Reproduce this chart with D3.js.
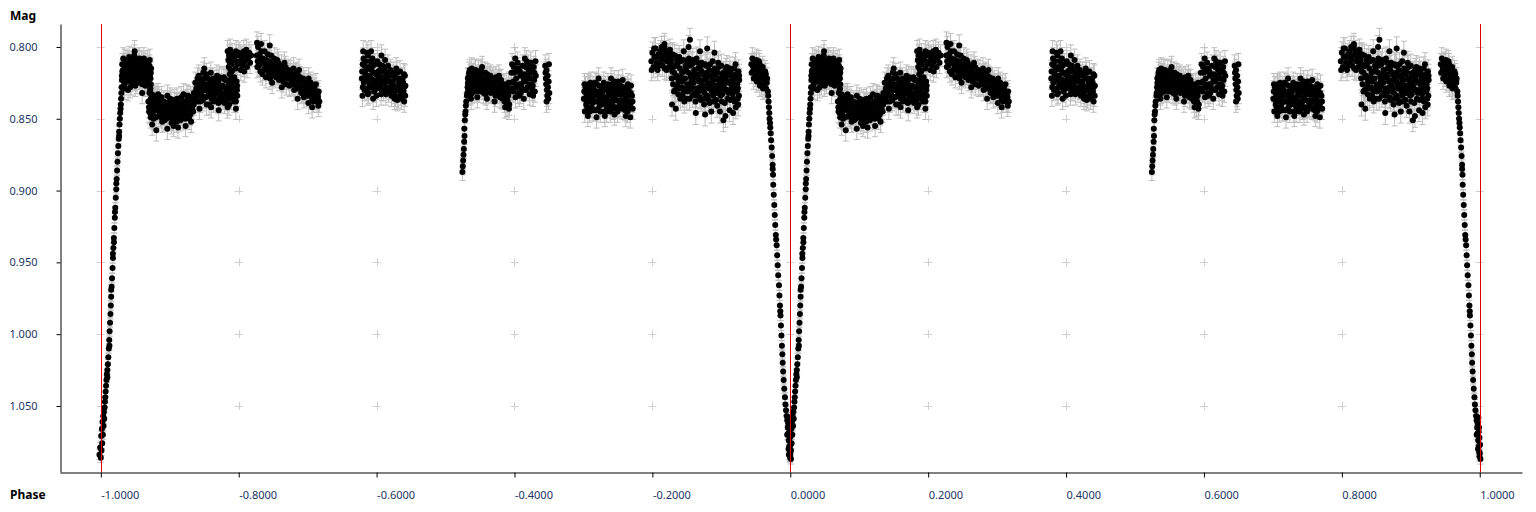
<!DOCTYPE html>
<html><head><meta charset="utf-8">
<script src="https://cdn.jsdelivr.net/npm/d3@7"></script>
<style>body{margin:0;background:#fff;} svg{display:block;}</style>
</head><body>
<svg id="chart" width="1536" height="512"></svg>
<script>
// ---- axis / tick data ----
const xTicks = [-1, -0.8, -0.6, -0.4, -0.2, 0, 0.2, 0.4, 0.6, 0.8, 1];
const yTicks = [0.80, 0.85, 0.90, 0.95, 1.00, 1.05];
const xTitle = "Phase";
const yTitle = "Mag";
const epochLines = [-1, 0, 1];

// ---- phased light curve, one cycle (phase, magnitude); plotted at phase-1 and phase ----
const egress = [[-.002,1.084],[-.001,1.079],[0,1.086],[.0005,1.071],[.001,1.081],[.0015,1.066],[.002,1.076],[.0025,1.061],[.003,1.070],[.0035,1.057],[.004,1.064],[.0045,1.054],[.005,1.059],[.0055,1.051],[.006,1.047],[.0065,1.044],[.007,1.040],[.0076,1.036],[.0082,1.032],[.0088,1.028],[.0095,1.025],[.0102,1.021],[.0109,1.016],[.0116,1.010],[.0122,1.004],[.0128,.998],[.0134,.992],[.014,.986],[.0145,.980],[.015,.974],[.0157,.967],[.0163,.961],[.017,.954],[.0176,.947],[.0182,.940],[.0189,.933],[.0196,.926],[.0203,.919],[.021,.912],[.0217,.905],[.0224,.899],[.023,.892],[.0236,.886],[.0242,.880],[.0248,.874],[.0254,.869],[.026,.864],[.0266,.859],[.0271,.854],[.0276,.850],[.0281,.846],[.0286,.843],[.029,.840],[.0294,.836],[.0298,.832],[.0302,.828],[.0306,.823],[.0125,1.008],[.0175,.944],[.0225,.895],[.0265,.862],[.019,.936],[.0095,1.030],[.0150,.969],[.0205,.915]];
const plateau = [[.031,.812],[.033,.821],[.035,.809],[.037,.824],[.039,.815],[.041,.807],[.043,.819],[.045,.826],[.047,.811],[.049,.817],[.051,.822],[.053,.809],[.055,.814],[.057,.825],[.059,.810],[.061,.818],[.063,.823],[.065,.812],[.067,.816],[.069,.825],[.071,.809],[.073,.815],[.032,.816],[.034,.826],[.036,.813],[.038,.819],[.040,.811],[.042,.823],[.044,.815],[.046,.808],[.048,.820],[.050,.827],[.052,.813],[.054,.818],[.056,.808],[.058,.820],[.060,.826],[.062,.811],[.064,.819],[.066,.824],[.068,.810],[.070,.818],[.072,.822],[.0305,.820],[.0325,.808],[.0345,.817],[.0365,.822],[.0385,.810],[.0405,.816],[.0425,.828],[.0445,.812],[.0465,.821],[.0485,.806],[.0505,.815],[.0525,.825],[.0545,.811],[.0565,.817],[.0585,.813],[.0605,.821],[.0625,.808],[.0645,.827],[.0665,.814],[.0685,.821],[.0705,.813],[.0725,.826],[.049,.803],[.0395,.830],[.060,.832],[.0715,.830],[.0345,.829],
  [.0312,.817],[.0337,.812],[.0362,.818],[.0387,.824],[.0412,.820],[.0437,.822],[.0462,.816],[.0487,.823],[.0512,.810],[.0537,.821],[.0562,.822],[.0587,.817],[.0612,.814],[.0637,.815],[.0662,.819],[.0687,.814],[.0712,.820],[.0725,.818]];
const dip = [[.069,.838],[.0715,.846],[.074,.833],[.0765,.850],[.079,.841],[.0815,.836],[.084,.848],[.0865,.843],[.089,.852],[.0915,.838],[.094,.845],[.0965,.834],[.099,.849],[.1015,.842],[.104,.851],[.1065,.837],[.109,.846],[.1115,.840],[.114,.849],[.1165,.835],[.119,.844],[.1215,.838],[.124,.847],[.1265,.834],[.129,.842],[.1315,.837],[.134,.845],[.070,.845],[.0725,.836],[.075,.843],[.0775,.838],[.080,.849],[.0825,.844],[.085,.837],[.0875,.849],[.090,.843],[.0925,.851],[.095,.839],[.0975,.846],[.100,.838],[.1025,.853],[.105,.843],[.1075,.839],[.110,.852],[.1125,.845],[.115,.839],[.1175,.847],[.120,.833],[.1225,.850],[.125,.841],[.1275,.846],[.130,.835],[.1325,.843],[.135,.832],[.0705,.832],[.073,.840],[.0755,.847],[.078,.834],[.0805,.840],[.083,.833],[.0855,.846],[.088,.835],[.0905,.847],[.093,.841],[.0955,.849],[.098,.842],[.1005,.836],[.103,.846],[.1055,.849],[.108,.842],[.1105,.836],[.113,.844],[.1155,.851],[.118,.840],[.1205,.846],[.123,.842],[.1255,.837],[.128,.850],[.1305,.845],[.133,.839],[.1355,.836],[.0805,.858],[.072,.829],[.0745,.854],[.112,.856],[.123,.855],[.1055,.855],[.131,.852],[.0965,.857],
  [.0698,.842],[.0723,.849],[.0748,.838],[.0773,.844],[.0798,.835],[.0823,.840],[.0848,.842],[.0873,.839],[.0898,.847],[.0923,.845],[.0948,.850],[.0973,.840],[.0998,.844],[.1023,.839],[.1048,.847],[.1073,.844],[.1098,.840],[.1123,.849],[.1148,.843],[.1173,.840],[.1198,.849],[.1223,.843],[.1248,.834],[.1273,.839],[.1298,.847],[.1323,.840],[.1348,.840]];
const rise1 = [[.137,.825],[.1395,.833],[.142,.820],[.1445,.838],[.147,.828],[.1495,.822],[.152,.835],[.1545,.826],[.157,.840],[.1595,.818],[.162,.831],[.1645,.824],[.167,.837],[.1695,.829],[.172,.821],[.1745,.834],[.177,.827],[.1795,.839],[.182,.823],[.1845,.832],[.187,.819],[.1895,.836],[.192,.828],[.1945,.833],[.197,.824],[.138,.835],[.1405,.827],[.143,.831],[.1455,.823],[.148,.837],[.1505,.830],[.153,.819],[.1555,.834],[.158,.828],[.1605,.836],[.163,.822],[.1655,.833],[.168,.826],[.1705,.839],[.173,.830],[.1755,.822],[.178,.833],[.1805,.828],[.183,.837],[.1855,.825],[.188,.831],[.1905,.822],[.193,.838],[.1955,.829],[.198,.834],[.1385,.829],[.141,.838],[.1435,.826],[.146,.832],[.1485,.818],[.151,.827],[.1535,.840],[.156,.831],[.1585,.823],[.161,.829],[.1635,.838],[.166,.830],[.1685,.820],[.171,.826],[.1735,.838],[.176,.832],[.1785,.821],[.181,.834],[.1835,.829],[.186,.840],[.1885,.826],[.191,.833],[.1935,.821],[.196,.838],[.1975,.830],[.143,.843],[.150,.815],[.160,.842],[.171,.844],[.184,.842],[.190,.817],[.196,.843],
  [.1378,.831],[.1403,.822],[.1428,.834],[.1453,.829],[.1478,.824],[.1503,.835],[.1528,.829],[.1553,.822],[.1578,.833],[.1603,.825],[.1628,.835],[.1653,.827],[.1678,.832],[.1703,.823],[.1728,.835],[.1753,.828],[.1778,.836],[.1803,.823],[.1828,.831],[.1853,.835],[.1878,.823],[.1903,.829],[.1928,.824],[.1953,.835],[.1978,.827]];
const bump1 = [[.184,.803],[.185,.809],[.1855,.814],[.186,.806],[.187,.811],[.1875,.802],[.188,.816],[.189,.808],[.190,.812],[.1905,.805],[.194,.809],[.1955,.815],[.197,.806],[.1985,.812],[.200,.804],[.2015,.810],[.203,.816],[.2045,.807],[.206,.813],[.2075,.803],[.209,.810],[.2105,.806],[.212,.814],[.2135,.808],[.215,.804],[.2165,.811],[.218,.806],[.196,.803],[.2025,.806],[.208,.817],[.211,.802]];
const decline1 = [[.226,.806],[.2295,.813],[.233,.803],[.2365,.816],[.240,.809],[.2435,.818],[.247,.806],[.2505,.815],[.254,.821],[.2575,.811],[.261,.819],[.2645,.824],[.268,.814],[.2715,.822],[.275,.817],[.2785,.826],[.282,.819],[.2855,.829],[.289,.821],[.2925,.831],[.296,.824],[.2995,.834],[.303,.827],[.3065,.836],[.310,.829],[.3135,.838],[.316,.831],[.227,.814],[.2305,.805],[.234,.811],[.2375,.803],[.241,.816],[.2445,.810],[.248,.820],[.2515,.808],[.255,.814],[.2585,.823],[.262,.813],[.2655,.818],[.269,.826],[.2725,.816],[.276,.823],[.2795,.815],[.283,.827],[.2865,.820],[.290,.828],[.2935,.822],[.297,.832],[.3005,.826],[.304,.834],[.3075,.827],[.311,.836],[.3145,.833],[.317,.838],[.228,.800],[.2315,.817],[.235,.808],[.2385,.814],[.242,.805],[.2455,.822],[.249,.812],[.2525,.817],[.256,.809],[.2595,.816],[.263,.821],[.2665,.811],[.270,.819],[.2735,.827],[.277,.820],[.2805,.830],[.284,.823],[.2875,.816],[.291,.825],[.2945,.835],[.298,.827],[.3015,.822],[.305,.830],[.3085,.838],[.312,.826],[.3155,.841],[.2265,.797],[.2325,.798],[.245,.799],[.2485,.825],[.2625,.828],[.2855,.836],[.301,.839],[.3065,.842],[.2395,.821],
  [.2275,.810],[.231,.808],[.2345,.819],[.238,.811],[.2415,.812],[.245,.815],[.2485,.816],[.252,.812],[.2555,.819],[.259,.818],[.2625,.816],[.266,.821],[.2695,.822],[.273,.819],[.2765,.826],[.280,.822],[.2835,.818],[.287,.824],[.2905,.832],[.294,.826],[.2975,.829],[.301,.831],[.3045,.825],[.308,.833],[.3115,.832],[.315,.835]];
const block1 = [[.379,.817],[.3815,.825],[.384,.810],[.3865,.829],[.389,.814],[.3915,.822],[.394,.808],[.3965,.831],[.399,.819],[.4015,.826],[.404,.812],[.4065,.833],[.409,.821],[.4115,.816],[.414,.828],[.4165,.813],[.419,.824],[.4215,.834],[.424,.818],[.4265,.829],[.429,.822],[.4315,.835],[.434,.817],[.4365,.827],[.439,.831],[.441,.820],[.380,.828],[.3825,.813],[.385,.821],[.3875,.806],[.390,.826],[.3925,.816],[.395,.823],[.3975,.812],[.400,.829],[.4025,.817],[.405,.824],[.4075,.815],[.410,.830],[.4125,.823],[.415,.819],[.4175,.831],[.420,.816],[.4225,.826],[.425,.832],[.4275,.821],[.430,.828],[.4325,.825],[.435,.833],[.4375,.822],[.440,.828],[.3785,.822],[.381,.808],[.3835,.819],[.386,.823],[.3885,.832],[.391,.810],[.3935,.827],[.396,.818],[.3985,.824],[.401,.810],[.4035,.820],[.406,.827],[.4085,.813],[.411,.825],[.4135,.833],[.416,.822],[.4185,.818],[.421,.827],[.4235,.824],[.426,.836],[.4285,.815],[.431,.830],[.4335,.822],[.436,.836],[.4385,.825],[.4415,.834],[.3805,.803],[.386,.804],[.392,.803],[.395,.836],[.407,.806],[.430,.837],[.440,.838],[.3795,.834],
  [.3798,.812],[.3823,.830],[.3848,.816],[.3873,.833],[.3898,.820],[.3923,.828],[.3948,.813],[.3973,.827],[.3998,.834],[.4023,.822],[.4048,.816],[.4073,.830],[.4098,.817],[.4123,.809],[.4148,.824],[.4173,.818],[.4198,.829],[.4223,.820],[.4248,.827],[.4273,.834],[.4298,.818],[.4323,.830],[.4348,.826],[.4373,.831],[.4398,.819],[.4418,.827]];
const rise2 = [[.5245,.887],[.525,.883],[.5255,.879],[.526,.875],[.5265,.871],[.527,.866],[.5275,.862],[.5272,.857],[.528,.851],[.5285,.847],[.529,.845],[.5295,.841],[.530,.838],[.531,.834],[.5315,.832],[.532,.828],[.5325,.825],[.533,.821]];
const block2 = [[.5325,.822],[.535,.816],[.5375,.828],[.540,.819],[.5425,.831],[.545,.823],[.5475,.817],[.550,.827],[.5525,.821],[.555,.832],[.5575,.818],[.560,.826],[.5625,.830],[.565,.820],[.5675,.828],[.570,.823],[.5725,.834],[.575,.826],[.5775,.820],[.580,.831],[.5825,.836],[.585,.827],[.5875,.833],[.590,.838],[.5925,.829],[.533,.830],[.5355,.824],[.538,.815],[.5405,.827],[.543,.820],[.5455,.830],[.548,.825],[.5505,.820],[.553,.829],[.5555,.824],[.558,.833],[.5605,.819],[.563,.825],[.5655,.832],[.568,.822],[.5705,.829],[.573,.821],[.5755,.832],[.578,.828],[.5805,.823],[.583,.830],[.5855,.838],[.588,.826],[.5905,.832],[.5925,.840],[.534,.818],[.5365,.833],[.539,.823],[.5415,.816],[.544,.826],[.5465,.822],[.549,.831],[.5515,.816],[.554,.825],[.5565,.829],[.559,.822],[.5615,.831],[.564,.827],[.5665,.824],[.569,.830],[.5715,.826],[.574,.829],[.5765,.823],[.579,.835],[.5815,.827],[.584,.833],[.5865,.830],[.589,.836],[.5915,.825],[.537,.836],[.546,.835],[.560,.836],[.571,.838],[.5865,.842],[.592,.843],[.553,.814],[.589,.841],
  [.5335,.826],[.536,.820],[.5385,.832],[.541,.824],[.5435,.816],[.546,.828],[.5485,.821],[.551,.824],[.5535,.818],[.556,.827],[.5585,.829],[.561,.823],[.5635,.821],[.566,.829],[.5685,.826],[.571,.832],[.5735,.825],[.576,.830],[.5785,.824],[.581,.835],[.5835,.826],[.586,.834],[.5885,.830],[.591,.834]];
const block3 = [[.595,.825],[.5965,.812],[.598,.831],[.5995,.818],[.601,.808],[.6025,.822],[.604,.828],[.6055,.815],[.607,.834],[.6085,.820],[.610,.826],[.6115,.813],[.613,.830],[.6145,.819],[.616,.824],[.6175,.810],[.619,.828],[.6205,.816],[.622,.833],[.6235,.811],[.625,.822],[.6265,.827],[.628,.814],[.6295,.831],[.631,.820],[.5955,.818],[.5985,.824],[.6015,.835],[.6045,.811],[.6075,.826],[.6105,.819],[.6135,.836],[.6165,.814],[.6195,.822],[.6225,.826],[.6255,.816],[.6285,.823],[.6305,.810],[.597,.829],[.603,.817],[.609,.832],[.615,.808],[.621,.820],[.627,.834],
  [.5958,.830],[.5988,.814],[.6018,.826],[.6048,.832],[.6078,.817],[.6108,.829],[.6138,.823],[.6168,.830],[.6198,.813],[.6228,.818],[.6258,.830],[.6288,.818]];
const column1 = [[.6445,.813],[.645,.818],[.6455,.822],[.646,.826],[.6465,.816],[.647,.830],[.6475,.834],[.648,.820],[.6485,.828],[.649,.836],[.6495,.824],[.650,.812],[.6505,.832],[.6465,.838]];
const block4 = [[.7005,.836],[.703,.828],[.7055,.842],[.708,.832],[.7105,.825],[.713,.839],[.7155,.830],[.718,.844],[.7205,.834],[.723,.827],[.7255,.840],[.728,.831],[.7305,.845],[.733,.836],[.7355,.826],[.738,.838],[.7405,.832],[.743,.843],[.7455,.829],[.748,.837],[.7505,.824],[.753,.841],[.7555,.833],[.758,.828],[.7605,.844],[.763,.836],[.7655,.830],[.768,.840],[.7705,.834],[.7015,.826],[.704,.840],[.7065,.834],[.709,.845],[.7115,.836],[.714,.828],[.7165,.838],[.719,.826],[.7215,.843],[.724,.835],[.7265,.830],[.729,.838],[.7315,.828],[.734,.842],[.7365,.833],[.739,.845],[.7415,.826],[.744,.836],[.7465,.842],[.749,.830],[.7515,.838],[.754,.827],[.7565,.843],[.759,.837],[.7615,.829],[.764,.845],[.7665,.838],[.769,.827],[.7715,.843],[.702,.845],[.7045,.833],[.707,.826],[.7095,.838],[.712,.842],[.7145,.834],[.717,.825],[.7195,.838],[.722,.831],[.7245,.845],[.727,.836],[.7295,.825],[.732,.840],[.7345,.830],[.737,.840],[.7395,.829],[.742,.839],[.7445,.824],[.747,.833],[.7495,.845],[.752,.833],[.7545,.837],[.757,.823],[.7595,.832],[.762,.840],[.7645,.826],[.767,.833],[.7695,.838],[.7065,.848],[.719,.849],[.731,.848],[.745,.847],[.7615,.848],[.768,.849],[.722,.822],[.740,.822],
  [.7012,.831],[.7037,.837],[.7062,.829],[.7087,.827],[.7112,.831],[.7137,.844],[.7162,.834],[.7187,.832],[.7212,.838],[.7237,.841],[.7262,.834],[.7287,.828],[.7312,.835],[.7337,.845],[.7362,.830],[.7387,.834],[.7412,.842],[.7437,.830],[.7462,.837],[.7487,.827],[.7512,.842],[.7537,.830],[.7562,.838],[.7587,.842],[.7612,.834],[.7637,.830],[.7662,.843],[.7687,.832],[.7712,.838]];
const bump2 = [[.7985,.810],[.800,.804],[.8015,.814],[.803,.807],[.8045,.801],[.806,.811],[.8075,.816],[.809,.805],[.8105,.812],[.812,.808],[.8135,.800],[.815,.813],[.8165,.806],[.818,.815],[.8195,.803],[.821,.810],[.8225,.807],[.824,.814],[.8255,.802],[.827,.809],[.8285,.812],[.799,.816],[.8025,.801],[.8055,.807],[.8085,.813],[.8115,.803],[.8145,.809],[.8175,.800],[.8205,.816],[.8235,.805],[.8265,.813],[.8295,.806],[.8175,.798]];
const block5 = [[.8275,.812],[.830,.826],[.8325,.806],[.835,.820],[.8375,.833],[.840,.815],[.8425,.828],[.845,.809],[.8475,.822],[.850,.836],[.8525,.818],[.855,.830],[.8575,.812],[.860,.825],[.8625,.838],[.865,.819],[.8675,.831],[.870,.814],[.8725,.827],[.875,.840],[.8775,.821],[.880,.834],[.8825,.816],[.885,.828],[.8875,.810],[.890,.823],[.8925,.837],[.895,.818],[.8975,.830],[.900,.813],[.9025,.826],[.905,.839],[.9075,.820],[.910,.832],[.9125,.815],[.915,.827],[.9175,.836],[.920,.822],[.9225,.831],[.925,.817],[.828,.822],[.8305,.814],[.833,.830],[.8355,.809],[.838,.824],[.8405,.836],[.843,.818],[.8455,.831],[.848,.813],[.8505,.826],[.853,.808],[.8555,.821],[.858,.834],[.8605,.816],[.863,.829],[.8655,.811],[.868,.824],[.8705,.837],[.873,.819],[.8755,.832],[.878,.813],[.8805,.826],[.883,.839],[.8855,.821],[.888,.834],[.8905,.815],[.893,.827],[.8955,.811],[.898,.824],[.9005,.838],[.903,.818],[.9055,.830],[.908,.814],[.9105,.825],[.913,.837],[.9155,.821],[.918,.829],[.9205,.812],[.923,.826],[.9255,.834],[.829,.805],[.8315,.818],[.834,.813],[.8365,.827],[.839,.807],[.8415,.821],[.844,.834],[.8465,.817],[.849,.829],[.8515,.811],[.854,.836],[.8565,.824],[.859,.819],[.8615,.832],[.864,.808],[.8665,.822],[.869,.835],[.8715,.817],[.874,.829],[.8765,.812],[.879,.824],[.8815,.837],[.884,.820],[.8865,.831],[.889,.817],[.8915,.829],[.894,.841],[.8965,.822],[.899,.834],[.9015,.819],[.904,.828],[.9065,.823],[.909,.836],[.9115,.818],[.914,.830],[.9165,.824],[.919,.838],[.9215,.819],[.924,.829],[.926,.823],[.8285,.840],[.834,.843],[.8525,.800],[.8545,.795],[.863,.846],[.869,.803],[.8765,.847],[.8855,.845],[.890,.804],[.898,.845],[.903,.851],[.906,.848],[.912,.844],[.917,.846],[.921,.842],[.9245,.840],[.8795,.801],[.8455,.803],
  [.8288,.817],[.8313,.831],[.8338,.821],[.8363,.812],[.8388,.829],[.8413,.810],[.8438,.824],[.8463,.838],[.8488,.816],[.8513,.831],[.8538,.813],[.8563,.827],[.8588,.809],[.8613,.821],[.8638,.834],[.8663,.815],[.8688,.828],[.8713,.811],[.8738,.823],[.8763,.836],[.8788,.818],[.8813,.829],[.8838,.812],[.8863,.825],[.8888,.838],[.8913,.819],[.8938,.832],[.8963,.814],[.8988,.827],[.9013,.833],[.9038,.822],[.9063,.816],[.9088,.830],[.9113,.824],[.9138,.818],[.9163,.833],[.9188,.815],[.9213,.827],[.9238,.836],[.9258,.820]];
const shoulder = [[.9435,.812],[.945,.808],[.9465,.816],[.948,.811],[.9495,.820],[.951,.809],[.9525,.815],[.954,.823],[.9555,.812],[.957,.818],[.9585,.826],[.960,.814],[.9615,.821],[.963,.828],[.9645,.819],[.966,.825],[.9675,.831],[.944,.818],[.9455,.813],[.947,.822],[.9485,.815],[.950,.812],[.9515,.824],[.953,.818],[.9545,.810],[.956,.827],[.9575,.821],[.959,.816],[.9605,.829],[.962,.823],[.9635,.817],[.965,.829],[.9665,.822]];
const ingress = [[.968,.834],[.9685,.838],[.969,.842],[.9695,.846],[.970,.850],[.9706,.853],[.971,.856],[.9716,.860],[.9722,.865],[.973,.870],[.9737,.876],[.9744,.882],[.975,.889],[.9753,.896],[.976,.903],[.9768,.910],[.9775,.917],[.9782,.924],[.979,.931],[.9803,.938],[.981,.945],[.9817,.952],[.9825,.959],[.9836,.966],[.9843,.973],[.985,.980],[.9858,.987],[.9865,.994],[.9872,1.001],[.9879,1.008],[.9885,1.014],[.989,1.020],[.9897,1.026],[.9904,1.032],[.9913,1.038],[.9923,1.044],[.993,1.049],[.9938,1.053],[.9947,1.057],[.9956,1.060],[.9963,1.065],[.9971,1.069],[.9978,1.074],[.9986,1.078],[.9993,1.082],[.9996,1.085],[1.001,1.087],[.9955,1.070],[.997,1.062],[.998,1.058],[.9985,1.068],[.9995,1.072],[1.0005,1.077],[.999,1.065],[.9975,1.080],[1.000,1.083],[.9795,.934],[.9855,.984],[.9745,.885]];

const segments = [egress, plateau, dip, rise1, bump1, decline1, block1, rise2, block2, block3, column1, block4, bump2, block5, shoulder, ingress];
const segmentErr = [0.0035, 0.0075, 0.0075, 0.0075, 0.0075, 0.0075, 0.0075, 0.006, 0.0075, 0.0075, 0.0075, 0.0075, 0.0075, 0.008, 0.0075, 0.0035];

// ---- drawing ----
const svg = d3.select("#chart");
const x = d3.scaleLinear().domain([-1.0592, 1.0613]).range([60, 1522]);
const y = d3.scaleLinear().domain([0.784, 1.096]).range([24, 472]);
const labelColor = "#1a3563";
const font = "'Noto Sans', 'Open Sans', sans-serif";

// grid crosses
const crosses = [];
xTicks.forEach(xt => yTicks.forEach(yt => crosses.push([xt, yt])));
svg.append("g").selectAll("path").data(crosses).join("path")
  .attr("d", d => `M${x(d[0]) - 4},${Math.round(y(d[1])) + 0.5}h8M${Math.round(x(d[0])) + 0.5},${y(d[1]) - 4}v8`)
  .attr("stroke", "#d0d0d0").attr("fill", "none").attr("stroke-width", 1);

// build plotted points (each cycle shown twice)
const pts = [];
segments.forEach((seg, i) => {
  seg.forEach(d => {
    const e = d[2] !== undefined ? d[2] : segmentErr[i];
    pts.push({p: d[0] - 1, m: d[1], e});
    pts.push({p: d[0], m: d[1], e});
  });
});

// error bars first, then markers on top
svg.append("g").selectAll("path").data(pts).join("path")
  .attr("d", d => {
    const cx = x(d.p), y1 = y(d.m - d.e), y2 = y(d.m + d.e);
    return `M${cx},${y1}V${y2}M${cx - 3},${y1}h6M${cx - 3},${y2}h6`;
  })
  .attr("stroke", "#bdbdbd").attr("stroke-width", 1).attr("fill", "none");
svg.append("g").selectAll("circle").data(pts).join("circle")
  .attr("cx", d => x(d.p)).attr("cy", d => y(d.m)).attr("r", 3)
  .attr("fill", "#000");

// epoch lines
svg.append("g").selectAll("line").data(epochLines).join("line")
  .attr("x1", d => Math.round(x(d)) + 0.5).attr("x2", d => Math.round(x(d)) + 0.5)
  .attr("y1", 24).attr("y2", 472)
  .attr("stroke", "#e00000").attr("stroke-width", 1);

// axes
const yAxis = d3.axisLeft(y).tickValues(yTicks).tickSize(4).tickSizeOuter(0).tickPadding(19)
  .tickFormat(v => v.toFixed(3));
const gy = svg.append("g").attr("transform", "translate(60.5,0)").call(yAxis);
gy.selectAll("text").attr("fill", labelColor).style("font-family", font).style("font-size", "11px");
gy.select(".domain").attr("stroke", "#000");

const xAxis = d3.axisBottom(x).tickValues(xTicks).tickSize(5).tickSizeOuter(0)
  .tickFormat(v => v.toFixed(4));
const gx = svg.append("g").attr("transform", "translate(0,472.5)").call(xAxis);
gx.selectAll("text").attr("fill", labelColor).attr("text-anchor", "start")
  .attr("y", 26.5).attr("dy", null).attr("x", 0)
  .style("font-family", font).style("font-size", "11px");
gx.select(".domain").attr("stroke", "#000");

// titles
svg.append("text").attr("x", 10).attr("y", 20).text(yTitle)
  .style("font-family", font).style("font-size", "12px").style("font-weight", "bold").attr("fill", "#000");
svg.append("text").attr("x", 10).attr("y", 499).text(xTitle)
  .style("font-family", font).style("font-size", "12px").style("font-weight", "bold").attr("fill", "#000");
</script>
</body></html>
